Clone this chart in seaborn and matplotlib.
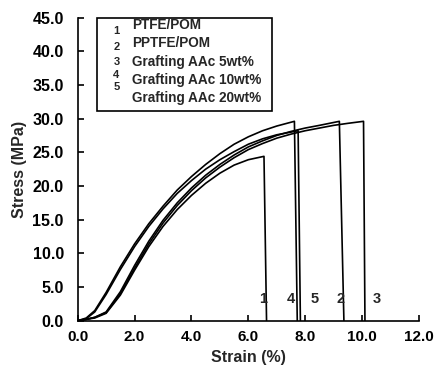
import pandas as pd
import matplotlib
matplotlib.use("Agg")
import matplotlib.pyplot as plt
import seaborn as sns
from matplotlib.patches import Rectangle

# stress-strain curves (strain %, stress MPa)
strain_1 = [0, 0.3, 0.6, 1.0, 1.5, 2.0, 2.5, 3.0, 3.5, 4.0, 4.5, 5.0, 5.5, 6.0, 6.55, 6.64]
stress_1 = [0, 0.2, 0.4, 1.1, 3.8, 7.5, 11.0, 14.0, 16.5, 18.6, 20.4, 21.9, 23.1, 23.9, 24.4, 0]

strain_2 = [0, 0.3, 0.6, 1.0, 1.5, 2.0, 2.5, 3.0, 3.5, 4.0, 4.5, 5.0, 5.5, 6.0, 6.5, 7.0, 7.5, 8.0, 8.5, 9.2, 9.36]
stress_2 = [0, 0.2, 0.5, 1.3, 4.3, 8.2, 11.8, 14.9, 17.5, 19.7, 21.6, 23.2, 24.6, 25.8, 26.7, 27.5, 28.1, 28.6, 29.0, 29.6, 0]

strain_3 = [0, 0.3, 0.6, 1.0, 1.5, 2.0, 2.5, 3.0, 3.5, 4.0, 4.5, 5.0, 5.5, 6.0, 6.5, 7.0, 7.5, 8.0, 8.5, 9.0, 9.5, 10.05, 10.1]
stress_3 = [0, 0.2, 0.5, 1.2, 4.0, 7.8, 11.4, 14.5, 17.1, 19.3, 21.2, 22.8, 24.2, 25.4, 26.3, 27.1, 27.7, 28.2, 28.6, 29.0, 29.3, 29.6, 0]

strain_4 = [0, 0.3, 0.6, 1.0, 1.5, 2.0, 2.5, 3.0, 3.5, 4.0, 4.5, 5.0, 5.5, 6.0, 6.5, 7.0, 7.62, 7.72]
stress_4 = [0, 0.4, 1.5, 4.2, 8.0, 11.4, 14.4, 17.0, 19.4, 21.4, 23.2, 24.8, 26.2, 27.3, 28.2, 28.9, 29.6, 0]

strain_5 = [0, 0.3, 0.6, 1.0, 1.5, 2.0, 2.5, 3.0, 3.5, 4.0, 4.5, 5.0, 5.5, 6.0, 6.5, 7.0, 7.75, 7.83]
stress_5 = [0, 0.3, 1.3, 3.9, 7.6, 11.0, 14.0, 16.6, 18.9, 20.8, 22.5, 23.9, 25.1, 26.2, 27.0, 27.6, 28.2, 0]

curve_ids = ["1", "2", "3", "4", "5"]
legend_names = ["PTFE/POM", "PPTFE/POM", "Grafting AAc 5wt%",
                "Grafting AAc 10wt%", "Grafting AAc 20wt%"]
label_x = [6.53, 9.23, 10.5, 7.5, 8.33]
label_y = 3.2

strains = [strain_1, strain_2, strain_3, strain_4, strain_5]
stresses = [stress_1, stress_2, stress_3, stress_4, stress_5]

frames = []
for cid, xs, ys in zip(curve_ids, strains, stresses):
    frames.append(pd.DataFrame({"strain": xs, "stress": ys, "curve": cid}))
df = pd.concat(frames, ignore_index=True)

sns.set_style("ticks")
plt.rcParams["font.family"] = ["Liberation Sans", "DejaVu Sans"]

fig = plt.figure(figsize=(4.35, 3.74), dpi=100)
ax = fig.add_axes([0.1786, 0.1425, 0.7846, 0.8105])

sns.lineplot(data=df, x="strain", y="stress", hue="curve", units="curve",
             estimator=None, sort=False, palette=["black"] * 5,
             linewidth=1.2, legend=False, ax=ax)

ax.set_xlim(0, 12)
ax.set_ylim(0, 45)
ax.set_xticks([0, 2, 4, 6, 8, 10, 12])
ax.set_yticks([0, 5, 10, 15, 20, 25, 30, 35, 40, 45])
ax.set_xticklabels([f"{v:.1f}" for v in ax.get_xticks()], fontweight="bold", fontsize=11)
ax.set_yticklabels([f"{v:.1f}" for v in ax.get_yticks()], fontweight="bold", fontsize=11.5)
ax.tick_params(direction="in", length=4, width=1.2, colors="black")
ax.tick_params(axis="y", pad=10)
ax.tick_params(axis="x", pad=7)
for side in ["left", "bottom"]:
    ax.spines[side].set_linewidth(1.2)
    ax.spines[side].set_color("black")
sns.despine(ax=ax)

ax.set_xlabel("Strain (%)", fontweight="bold", fontsize=11.5, labelpad=4)
ax.set_ylabel("Stress (MPa)", fontweight="bold", fontsize=11.5, labelpad=4)

for cid, lx in zip(curve_ids, label_x):
    ax.text(lx, label_y, cid, fontsize=10.5, fontweight="bold", ha="center", va="center")

# legend-like box with numbered entries
ax.add_patch(Rectangle((0.0557, 0.692), 0.5136, 0.306, transform=ax.transAxes,
                       fill=False, edgecolor="black", linewidth=1.2, clip_on=False))
name_y = [0.975, 0.915, 0.855, 0.794, 0.734]
num_y = [0.957, 0.902, 0.854, 0.811, 0.770]
for cid, name, ny, my in zip(curve_ids, legend_names, name_y, num_y):
    ax.text(0.1137, my, cid, transform=ax.transAxes, fontsize=8,
            fontweight="bold", ha="center", va="center")
    ax.text(0.159, ny, name, transform=ax.transAxes, fontsize=9.8,
            fontweight="bold", ha="left", va="center")

fig.savefig("out.png", dpi=100)
